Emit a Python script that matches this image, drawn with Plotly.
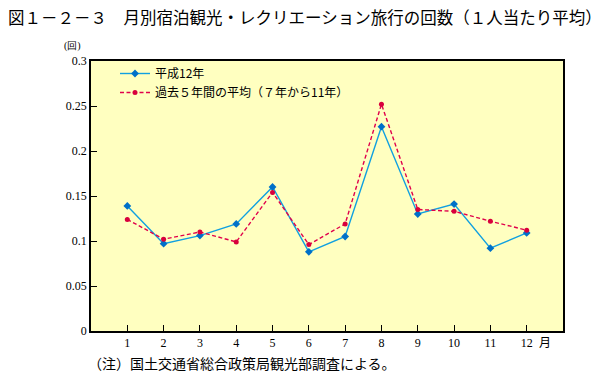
import plotly.graph_objects as go

months = list(range(1, 13))
month_labels = [str(m) for m in months]
h12 = [0.139, 0.097, 0.106, 0.119, 0.160, 0.088, 0.105, 0.227, 0.130, 0.141, 0.092, 0.109]
avg5 = [0.124, 0.102, 0.110, 0.099, 0.154, 0.096, 0.119, 0.252, 0.135, 0.133, 0.122, 0.112]
y_ticks = [0, 0.05, 0.1, 0.15, 0.2, 0.25, 0.3]
y_tick_labels = ["0", "0.05", "0.1", "0.15", "0.2", "0.25", "0.3"]

W, H = 607, 382
L, R, T, B = 91, 44, 61, 51
PW, PH = W - L - R, H - T - B

serif = "Liberation Serif, Times New Roman, serif"
jp = "Noto Sans CJK JP, Noto Sans, sans-serif"

def px(x):
    return (x - L) / PW

def py(y):
    return (H - B - y) / PH

fig = go.Figure()
fig.add_trace(go.Scatter(
    x=months, y=h12, name="平成12年", mode="lines+markers",
    line=dict(color="#10a0e0", width=1.4),
    marker=dict(symbol="diamond", size=6, color="#0070c8"),
))
fig.add_trace(go.Scatter(
    x=months, y=avg5, name="過去５年間の平均（７年から11年）", mode="lines+markers",
    line=dict(color="#e0004c", width=1.4, dash="4px,2.5px"),
    marker=dict(symbol="circle", size=5, color="#d8003c"),
))

fig.update_layout(
    width=W, height=H,
    margin=dict(l=L, r=R, t=T, b=B, pad=0),
    paper_bgcolor="white",
    plot_bgcolor="#ffffc0",
    showlegend=True,
    legend=dict(
        x=px(115), y=py(59), xanchor="left", yanchor="top",
        bgcolor="rgba(0,0,0,0)", font=dict(family=jp, size=12, color="black"),
        tracegroupgap=0, itemwidth=30,
    ),
    xaxis=dict(
        range=[0, 13], tickvals=months, ticktext=month_labels,
        ticks="inside", ticklen=6, tickcolor="black", tickwidth=1,
        showgrid=False, zeroline=False,
        showline=True, linecolor="black", linewidth=1.5, mirror=True,
        tickfont=dict(family=serif, size=12, color="black"),
    ),
    yaxis=dict(
        range=[0, 0.3], tickvals=y_ticks, ticktext=y_tick_labels,
        ticks="inside", ticklen=6, tickcolor="black", tickwidth=1,
        showgrid=False, zeroline=False,
        showline=True, linecolor="black", linewidth=1.5, mirror=True,
        tickfont=dict(family=serif, size=12, color="black"),
    ),
    annotations=[
        dict(text="図１－２－３　月別宿泊観光・レクリエーション旅行の回数（１人当たり平均）",
             xref="paper", yref="paper", x=px(6), y=py(17),
             xanchor="left", yanchor="middle", showarrow=False,
             font=dict(family=jp, size=16.5, color="black")),
        dict(text="(回)", xref="paper", yref="paper",
             x=px(72), y=py(46),
             xanchor="center", yanchor="middle", showarrow=False,
             font=dict(family=serif, size=10, color="black")),
        dict(text="月", xref="paper", yref="paper",
             x=px(545), y=py(341),
             xanchor="center", yanchor="middle", showarrow=False,
             font=dict(family=jp, size=12, color="black")),
        dict(text="（注）国土交通省総合政策局観光部調査による。", xref="paper", yref="paper",
             x=px(86), y=py(363),
             xanchor="left", yanchor="middle", showarrow=False,
             font=dict(family=jp, size=14, color="black")),
    ],
)

fig.write_html("out.html", config={"displayModeBar": False},
               post_script="document.body.style.margin='0px';document.body.style.overflow='hidden';")
